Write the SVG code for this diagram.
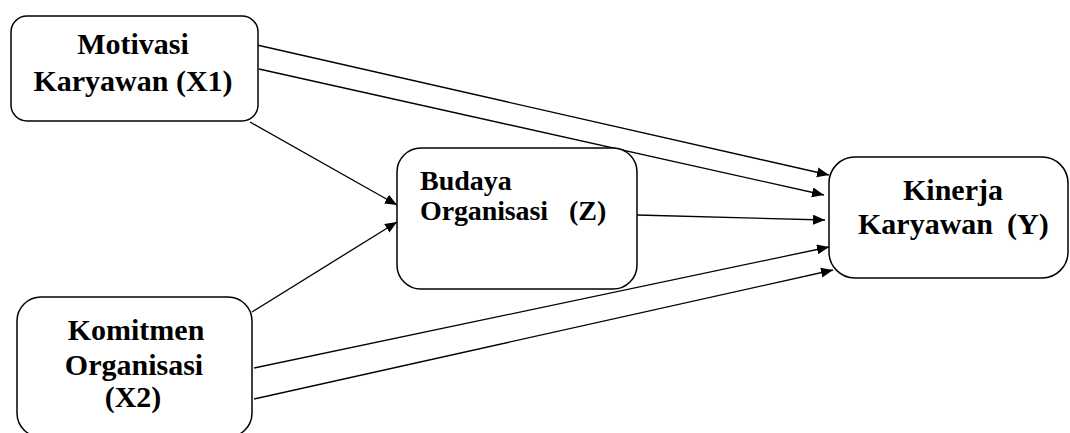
<svg xmlns="http://www.w3.org/2000/svg" width="1070" height="433" viewBox="0 0 1070 433">
<style>
.box{fill:#fff;stroke:#000;stroke-width:1.5}
.t{font-family:"Liberation Serif","Times New Roman",serif;font-weight:bold;font-size:30px;fill:#000}
.s{font-size:28px}
.c{text-anchor:middle}
.ln{stroke:#000;stroke-width:1.3;fill:none;marker-end:url(#ah)}
</style>
<defs>
<marker id="ah" markerUnits="userSpaceOnUse" markerWidth="13" markerHeight="11" refX="12" refY="5" orient="auto">
<path d="M0,0 L12,5 L0,10 Z" fill="#000"/>
</marker>
</defs>
<rect width="1070" height="433" fill="#fff"/>
<g id="connectors">
<line class="ln" x1="257" y1="45" x2="829" y2="175"/>
<line class="ln" x1="259" y1="69" x2="824" y2="195"/>
<line class="ln" x1="250" y1="122" x2="397" y2="205"/>
<line class="ln" x1="252" y1="312" x2="397" y2="222"/>
<line class="ln" x1="637" y1="215" x2="825" y2="220"/>
<line class="ln" x1="254" y1="368" x2="829" y2="247"/>
<line class="ln" x1="254" y1="399" x2="833" y2="270"/>
</g>
<g id="motivasi">
<rect class="box" x="11" y="16" width="247" height="105" rx="16"/>
<text class="t c" x="133" y="54">Motivasi</text>
<text class="t c" x="133" y="91">Karyawan (X1)</text>
</g>
<g id="budaya">
<rect class="box" x="397" y="148" width="240" height="141" rx="24"/>
<text class="t s" x="420" y="190">Budaya</text>
<text class="t s" x="420" y="220" textLength="128" lengthAdjust="spacing">Organisasi</text>
<text class="t s" x="569" y="220">(Z)</text>
</g>
<g id="kinerja">
<rect class="box" x="829" y="157" width="239" height="121" rx="26"/>
<text class="t c" x="953" y="200">Kinerja</text>
<text class="t" x="858" y="234">Karyawan</text>
<text class="t" x="1007" y="234">(Y)</text>
</g>
<g id="komitmen">
<rect class="box" x="17" y="297" width="235" height="140" rx="24"/>
<text class="t c" x="136" y="340">Komitmen</text>
<text class="t c" x="134" y="375">Organisasi</text>
<text class="t c" x="133" y="407">(X2)</text>
</g>
</svg>
